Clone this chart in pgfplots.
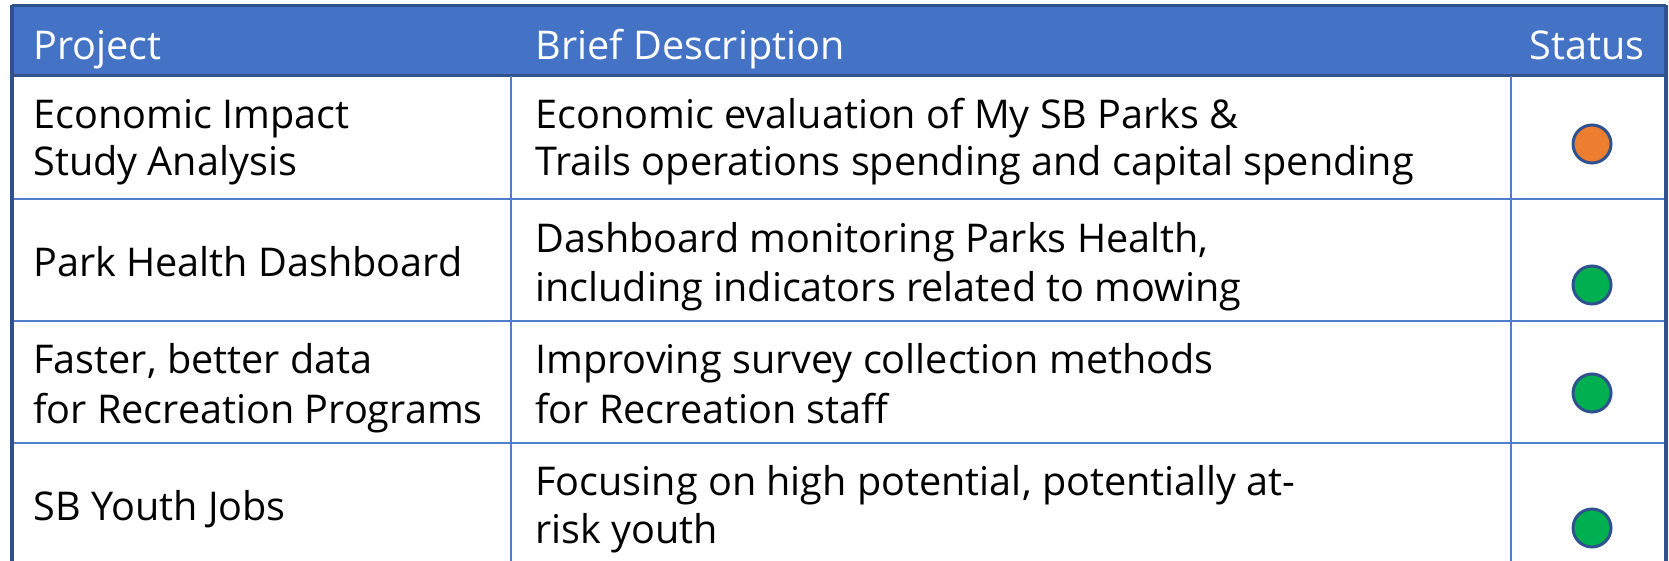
\documentclass[border=0pt]{standalone}
\usepackage{pgfplots}
\pgfplotsset{compat=1.18}
\usepackage{fontspec}
\setmainfont{Open Sans}
\definecolor{hdr}{HTML}{4472C4}
\definecolor{edge}{HTML}{2F528F}
\definecolor{grid}{HTML}{4F7FCC}
\definecolor{stOrange}{HTML}{ED7D31}
\definecolor{stGreen}{HTML}{00B050}
\newcommand\tabfont{\fontsize{19.8}{23}\selectfont}
% 1 unit = 1 px of the reference, y counted from the top
\newcommand\cell[3]{\node[anchor=base west, inner sep=0pt, font=\tabfont] at (axis cs:#1,#2) {#3};}
\begin{document}
\begin{tikzpicture}
\begin{axis}[width=834.5pt, height=280.5pt, scale only axis,
  xmin=0, xmax=1669, ymin=0, ymax=561, y dir=reverse,
  axis lines=none, ticks=none, clip=false]
% header band
\fill[hdr] (axis cs:12,6) rectangle (axis cs:1666,76);
\draw[edge, line width=1.5pt] (axis cs:12,6) -- (axis cs:1666,6);
\draw[edge, line width=1.5pt] (axis cs:12,76) -- (axis cs:1666,76);
% grid
\draw[grid, line width=1pt] (axis cs:511,76) -- (axis cs:511,561);
\draw[grid, line width=1pt] (axis cs:1511,76) -- (axis cs:1511,561);
\draw[grid, line width=1pt] (axis cs:12,199) -- (axis cs:1666,199);
\draw[grid, line width=1pt] (axis cs:12,321) -- (axis cs:1666,321);
\draw[grid, line width=1pt] (axis cs:12,443) -- (axis cs:1666,443);
\draw[edge, line width=1.6pt] (axis cs:12,5.3) -- (axis cs:12,561);
\draw[edge, line width=1.6pt] (axis cs:1666,5.3) -- (axis cs:1666,561);
% header text
\node[anchor=base west, inner sep=0pt, white, font=\tabfont] at (axis cs:33,60) {Project};
\node[anchor=base west, inner sep=0pt, white, font=\tabfont] at (axis cs:535,60) {Brief Description};
\node[anchor=base east, inner sep=0pt, white, font=\tabfont] at (axis cs:1645,60) {Status};
% rows
\cell{33}{129}{Economic Impact}
\cell{33}{176}{Study Analysis}
\cell{535}{129}{Economic evaluation of My SB Parks \&}
\cell{535}{176}{Trails operations spending and capital spending}
\cell{33}{277}{Park Health Dashboard}
\cell{535}{252}{Dashboard monitoring Parks Health,}
\cell{535}{301}{including indicators related to mowing}
\cell{33}{373}{Faster, better data}
\cell{33}{423}{for Recreation Programs}
\cell{535}{373}{Improving survey collection methods}
\cell{535}{423}{for Recreation staff}
\cell{33}{520}{SB Youth Jobs}
\cell{535}{495}{Focusing on high potential, potentially at-}
\cell{535}{543}{risk youth}
% status markers
\addplot[only marks, mark=*, mark size=9.5pt,
  mark options={fill=stOrange, draw=edge, line width=1.5pt}]
  coordinates {(1592,144)};
\addplot[only marks, mark=*, mark size=9.5pt,
  mark options={fill=stGreen, draw=edge, line width=1.5pt}]
  coordinates {(1592,285) (1592,393) (1592,528)};
\end{axis}
\pgfresetboundingbox
\path (current axis.south west) rectangle (current axis.north east);
\end{tikzpicture}
\end{document}
